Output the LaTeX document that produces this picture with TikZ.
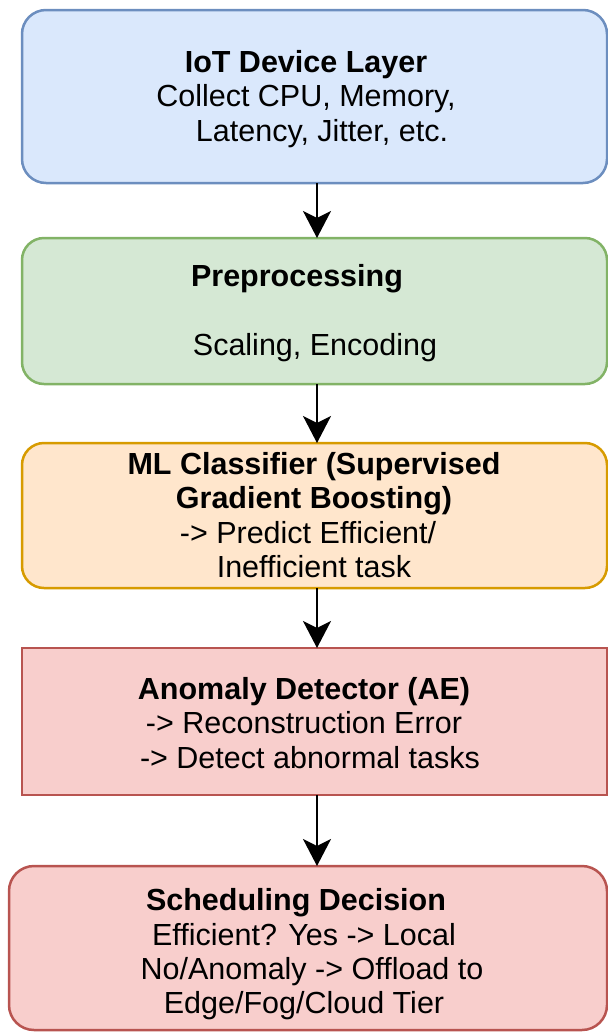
\documentclass[tikz,border=0pt]{standalone}
\usepackage{fontspec}
\setmainfont{Liberation Sans}
\usetikzlibrary{arrows.meta}
\definecolor{bluefill}{HTML}{DAE8FC}
\definecolor{bluedraw}{HTML}{6C8EBF}
\definecolor{greenfill}{HTML}{D5E8D4}
\definecolor{greendraw}{HTML}{82B366}
\definecolor{orangefill}{HTML}{FFE6CC}
\definecolor{orangedraw}{HTML}{D79B00}
\definecolor{redfill}{HTML}{F8CECC}
\definecolor{reddraw}{HTML}{B85450}
\newcommand\padw[1]{\makebox[#1]{}}
\begin{document}
\begin{tikzpicture}[x=1pt,y=-1pt,
  box/.style={draw, line width=2.5pt, minimum width=585pt, outer sep=0pt, inner sep=0pt},
  txt/.style={align=center, inner sep=0pt, font=\fontsize{30.5}{34.3}\selectfont},
  arr/.style={line width=2pt, -{Stealth[length=27pt,width=28pt,inset=7pt]}}]
\useasboundingbox (0,0) rectangle (608,1034);
\node[box, fill=bluefill, draw=bluedraw, rounded corners=24pt, minimum height=173pt] (b1) at (314.5,96.5) {};
\node[box, fill=greenfill, draw=greendraw, rounded corners=22pt, minimum height=146pt] (b2) at (314.5,311) {};
\node[box, fill=orangefill, draw=orangedraw, rounded corners=22pt, minimum height=145pt] (b3) at (314.5,515.5) {};
\node[box, fill=redfill, draw=reddraw, minimum height=147pt] (b4) at (314.5,721.5) {};
\node[box, fill=redfill, draw=reddraw, rounded corners=25pt, minimum width=598pt, minimum height=164pt] (b5) at (308,948) {};
\node[txt] (t1) at (306,99) {\textbf{IoT Device Layer}\\Collect CPU, Memory,\\\padw{32pt}Latency, Jitter, etc.};
\node[txt] (t2) at (306,313) {\textbf{Preprocessing}\padw{18pt}\\[34.3pt]\padw{18pt}Scaling, Encoding};
\node[txt] (t3) at (314,515) {\textbf{ML Classifier (Supervised}\\\textbf{Gradient Boosting)}\\-> Predict Efficient/\padw{12pt}\\Inefficient task};
\node[txt] (t4) at (304,723) {\textbf{Anomaly Detector (AE)}\\-> Reconstruction Error\\\padw{12pt}-> Detect abnormal tasks};
\node[txt] (t5) at (304,954.5) {\textbf{Scheduling Decision}\padw{16pt}\\Efficient? Yes -> Local\\\padw{16pt}No/Anomaly -> Offload to\\Edge/Fog/Cloud Tier};
\coordinate (ax) at (317,0);
\draw[arr] (b1.south -| ax) -- (b2.north -| ax);
\draw[arr] (b2.south -| ax) -- (b3.north -| ax);
\draw[arr] (b3.south -| ax) -- (b4.north -| ax);
\draw[arr] (b4.south -| ax) -- (b5.north -| ax);
\end{tikzpicture}
\end{document}
